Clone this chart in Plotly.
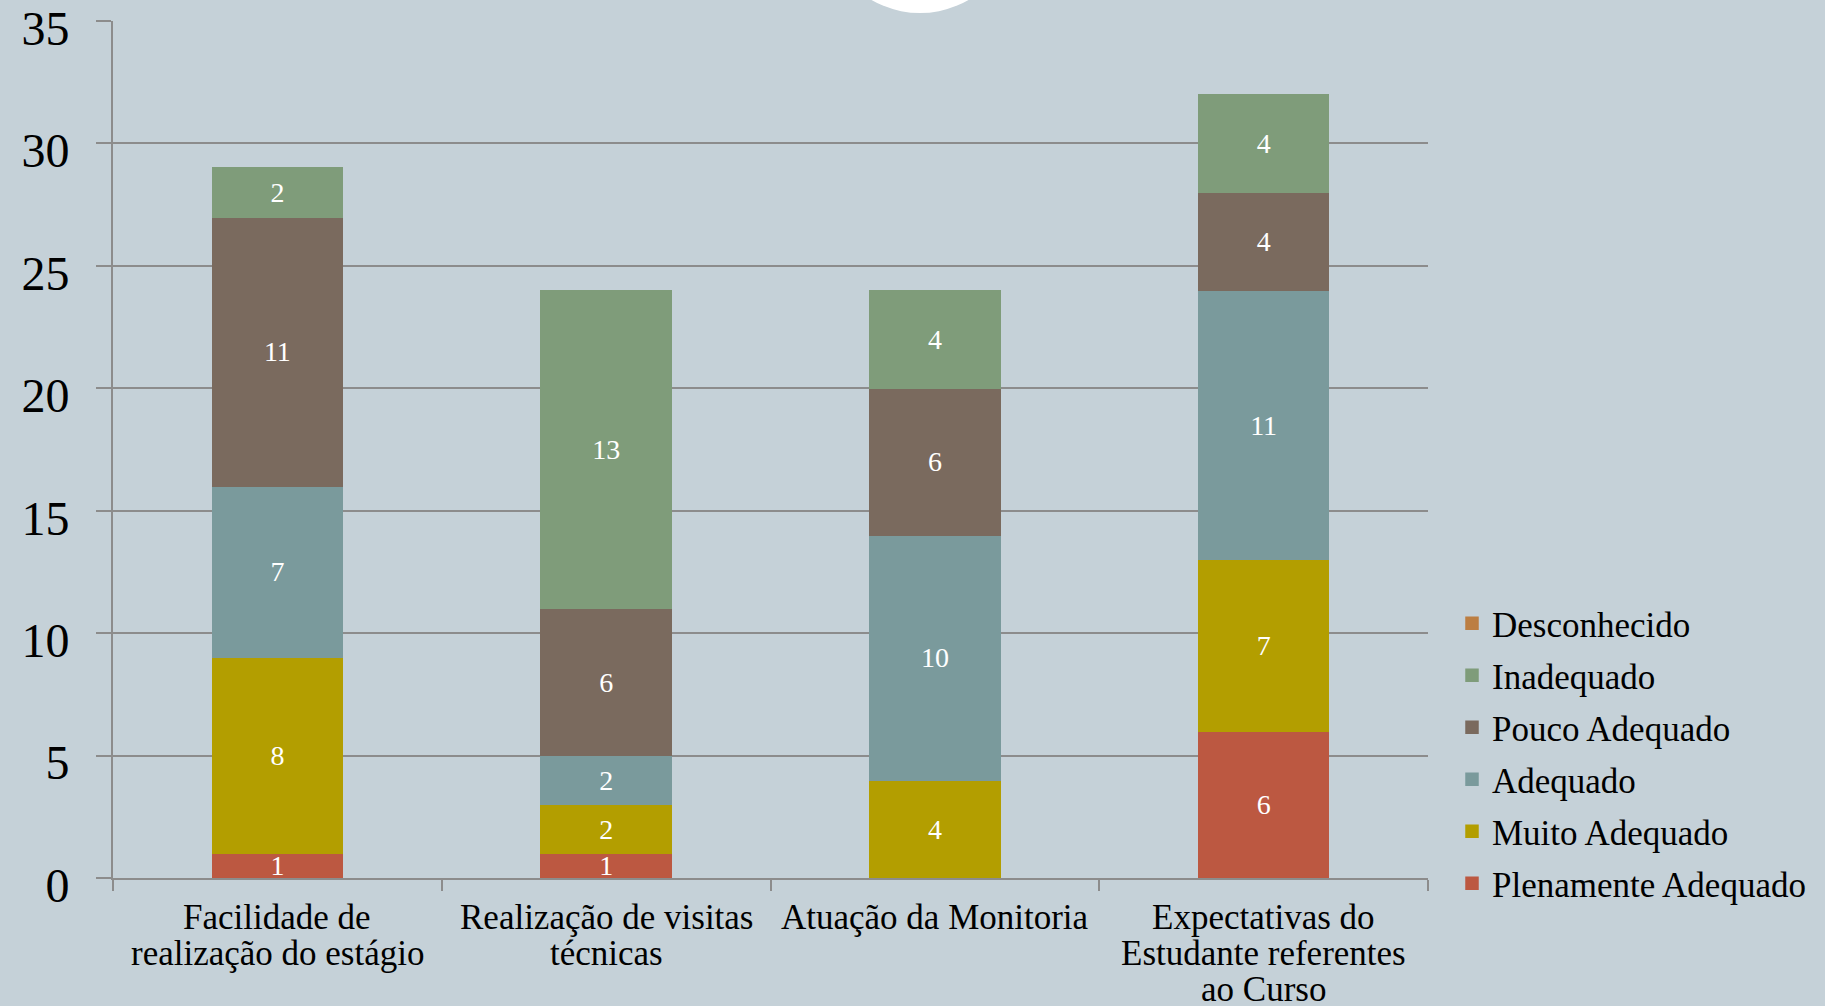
import plotly.graph_objects as go

categories = ["Facilidade de realização do estágio", "Realização de visitas técnicas",
              "Atuação da Monitoria", "Expectativas do Estudante referentes ao Curso"]
category_lines = [["Facilidade de", "realização do estágio"],
                  ["Realização de visitas", "técnicas"],
                  ["Atuação da Monitoria"],
                  ["Expectativas do", "Estudante referentes", "ao Curso"]]

series_names = ["Plenamente Adequado", "Muito Adequado", "Adequado",
                "Pouco Adequado", "Inadequado", "Desconhecido"]
plenamente = [1, 1, 0, 6]
muito = [8, 2, 4, 7]
adequado = [7, 2, 10, 11]
pouco = [11, 6, 6, 4]
inadequado = [2, 13, 4, 4]
desconhecido = [0, 0, 0, 0]
series_values = [plenamente, muito, adequado, pouco, inadequado, desconhecido]
series_colors = ["#BC5841", "#B39E00", "#7A9A9C", "#7A6A5E", "#7F9C7A", "#BC7E42"]

y_ticks = [0, 5, 10, 15, 20, 25, 30, 35]

FONT = "Liberation Serif"
W, H = 1825, 1006
ML, MR, MT, MB = 113, 397, 21, 128

fig = go.Figure()
n = len(series_names)
for i, (name, vals, col) in enumerate(zip(series_names, series_values, series_colors)):
    fig.add_trace(go.Bar(
        x=categories, y=[v if v else None for v in vals], name=name, legendgroup=name,
        legendrank=n - i,
        marker=dict(color=col, line=dict(color=col, width=1.5)),
        text=[str(v) if v else "" for v in vals],
        textposition="inside", insidetextanchor="middle", constraintext="none",
        textangle=0,
        textfont=dict(family=FONT, size=28, color="white"),
        hoverinfo="x+y+name",
    ))

annotations = []
for cat, lines in zip(categories, category_lines):
    for j, line in enumerate(lines):
        annotations.append(dict(
            x=cat, xref="x", y=0, yref="paper", yanchor="middle",
            yshift=-(39 + 36 * j), text=line, showarrow=False,
            font=dict(family=FONT, size=35, color="black")))

fig.update_layout(
    width=W, height=H,
    margin=dict(l=ML, r=MR, t=MT, b=MB, pad=0, autoexpand=False),
    paper_bgcolor="#C5D1D8", plot_bgcolor="#C5D1D8",
    barmode="stack", bargap=0.605,
    font=dict(family=FONT, color="black"),
    showlegend=True,
    legend=dict(
        traceorder="grouped", tracegroupgap=3.5,
        xref="container", yref="container",
        x=1452 / W, xanchor="left", y=1 - 594 / H, yanchor="top",
        font=dict(family=FONT, size=35, color="black"),
        bgcolor="rgba(0,0,0,0)", itemclick=False,
    ),
    annotations=annotations,
    shapes=[dict(type="circle", xref="paper", yref="paper",
                 xsizemode="pixel", ysizemode="pixel",
                 xanchor=(920 - ML) / (W - ML - MR), yanchor=1,
                 x0=-97, x1=97, y0=8, y1=202,
                 fillcolor="white", line=dict(width=0), layer="above")],
)

fig.update_xaxes(
    showgrid=False, showline=True, linecolor="#8C8C8C", linewidth=2,
    ticks="outside", tickson="boundaries", ticklen=11, tickcolor="#8C8C8C", tickwidth=2,
    showticklabels=False, automargin=False,
)
fig.update_yaxes(
    range=[0, 35], tickvals=y_ticks, showgrid=True, gridcolor="#8C8C8C", gridwidth=1.5,
    showline=True, linecolor="#8C8C8C", linewidth=2,
    ticks="outside", ticklen=15, tickcolor="#8C8C8C", tickwidth=1.5,
    ticklabelstandoff=17, ticklabelshift=7, zeroline=False, ticklabeloverflow="allow",
    automargin=False,
    tickfont=dict(family=FONT, size=48, color="black"),
)

fig.write_html("out.html", config={"displayModeBar": False},
               post_script="document.body.style.margin='0';document.body.style.overflow='hidden';")
